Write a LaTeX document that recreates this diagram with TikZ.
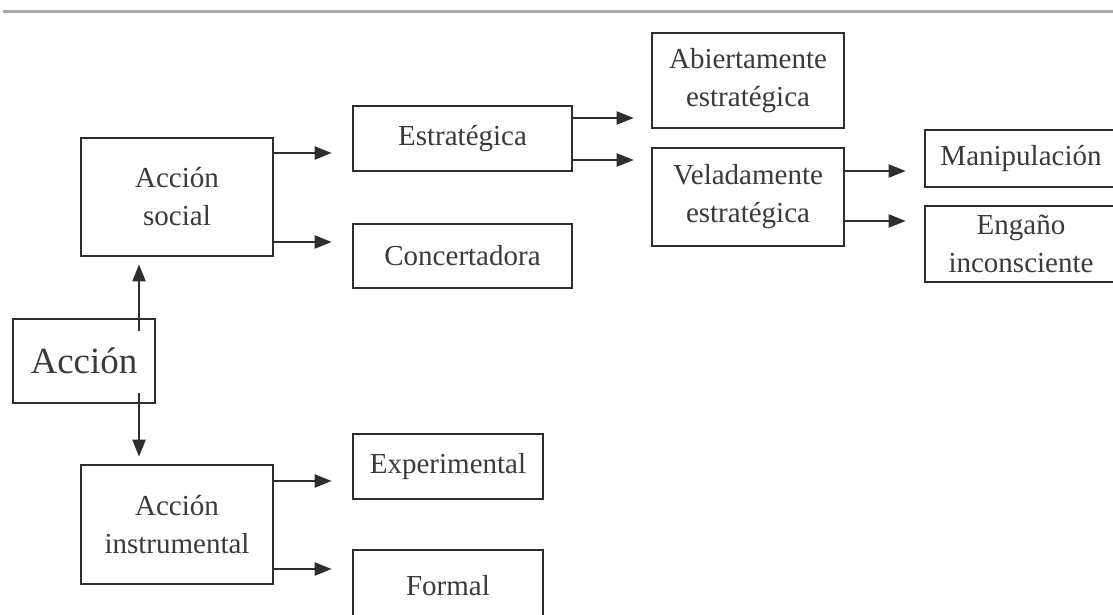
\documentclass[tikz,border=0pt]{standalone}
\usepackage{fontspec}
\setmainfont{Liberation Serif}
\usetikzlibrary{arrows.meta}
\definecolor{linec}{HTML}{2E2E2E}
\definecolor{textc}{HTML}{3A3A3A}
\definecolor{rulec}{HTML}{A8A8A8}
\begin{document}
\begin{tikzpicture}[x=1pt,y=-1pt,
  box/.style={draw=linec, line width=2.6pt, rectangle, inner sep=0pt, align=center,
    text=textc, font=\fontsize{29}{38}\selectfont},
  bigbox/.style={box, font=\fontsize{37}{38}\selectfont},
  arr/.style={draw=linec, line width=2pt, -{Triangle[length=17pt,width=13pt]}}]
\useasboundingbox (0,0) rectangle (1113,615);
\fill[white] (0,0) rectangle (1113,615);
\coordinate (rl) at (3,12);
\coordinate (rr) at (1113,12);
\draw[rulec, line width=3pt] (rl) -- (rr);

\node[box, minimum width=192pt, minimum height=118pt] (soc) at (177,197) {Acción\\social};
\node[bigbox, minimum width=142pt, minimum height=84pt] (acc) at (84,361) {Acción};
\node[box, minimum width=192pt, minimum height=119pt] (ins) at (177,524.5) {Acción\\instrumental};
\node[box, minimum width=219pt, minimum height=65pt] (est) at (462.5,138.5) {Estratégica};
\node[box, minimum width=219pt, minimum height=64pt] (con) at (462.5,256) {Concertadora};
\node[box, minimum width=190pt, minimum height=65pt] (exp) at (448,466.5) {Experimental};
\node[box, minimum width=190pt, minimum height=72pt] (form) at (448,586) {Formal};
\node[box, minimum width=192pt, minimum height=95pt] (abi) at (748,80.5) {Abiertamente\\estratégica};
\node[box, minimum width=192pt, minimum height=98pt] (vel) at (748,197) {Veladamente\\estratégica};
\node[box, minimum width=192pt, minimum height=57pt] (man) at (1021,158.5) {Manipulación};
\node[box, minimum width=192pt, minimum height=76pt] (eng) at (1021,244) {Engaño\\inconsciente};

\draw[arr] ([yshift=-13pt]acc.north -| 139,0) -- ([yshift=-7pt]soc.south -| 139,0);
\draw[arr] ([yshift=11pt]acc.south -| 139,0) -- ([yshift=7pt]ins.north -| 139,0);

\draw[arr] (soc.east |- 0,153) -- ([xshift=-20pt]est.west |- 0,153);
\draw[arr] (soc.east |- 0,242) -- ([xshift=-20pt]con.west |- 0,242);
\draw[arr] (est.east |- 0,118) -- ([xshift=-17pt]abi.west |- 0,118);
\draw[arr] (est.east |- 0,160) -- ([xshift=-17pt]vel.west |- 0,160);
\draw[arr] (vel.east |- 0,171) -- ([xshift=-18pt]man.west |- 0,171);
\draw[arr] (vel.east |- 0,221) -- ([xshift=-18pt]eng.west |- 0,221);
\draw[arr] (ins.east |- 0,481) -- ([xshift=-20pt]exp.west |- 0,481);
\draw[arr] (ins.east |- 0,569) -- ([xshift=-20pt]form.west |- 0,569);
\end{tikzpicture}
\end{document}
